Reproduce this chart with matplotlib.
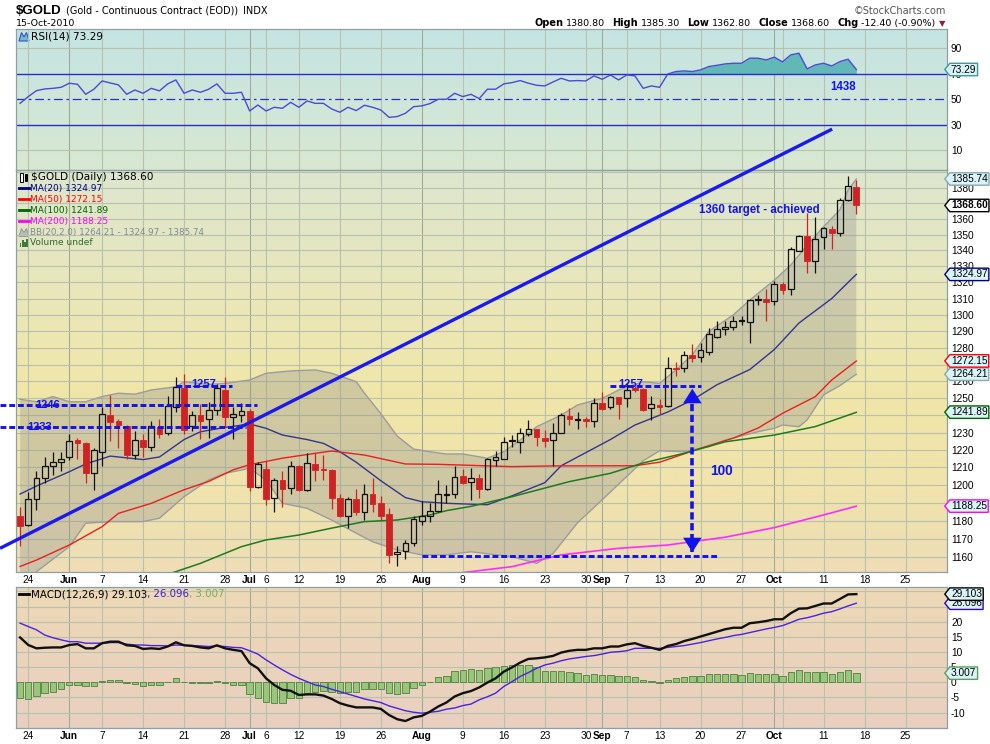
import numpy as np
import matplotlib
matplotlib.use("Agg")
import matplotlib.pyplot as plt
import matplotlib.transforms as mtrans
from matplotlib.lines import Line2D
from matplotlib.path import Path
from matplotlib.patches import FancyArrowPatch, Polygon, Rectangle
from matplotlib.ticker import NullLocator, NullFormatter

plt.rcParams['font.family'] = ['DejaVu Sans']

# ---------------- data (trading-day index 0 = 21 May 2010 ... 102 = 15 Oct 2010) -------------
days = list(range(103))
opens = [1183,1177.5,1192,1204,1211,1213,1216,1226,1224,1207,
         1219,1240,1237,1234,1217,1226,1221.5,1233.5,1229.5,1245,
         1256,1234,1240,1238,1243,1255,1239,1240,1242.5,1199,
         1209.4,1193,1203,1198.4,1211,1197.4,1212,1209.3,1208.7,1193,
         1183,1192,1185,1195,1190,1184,1162,1163.4,1168,1180,
         1182.7,1185.7,1194.6,1195,1205,1201.6,1204,1198,1214.2,1215,
         1225,1224.7,1229.2,1232,1227,1226,1230,1239.6,1237.5,1238,
         1237,1247,1244.8,1250.6,1250,1255.8,1255.3,1244.2,1246,1245.5,
         1268.2,1268,1275.5,1274.7,1277.5,1286.7,1291.2,1292.4,1296.3,1295.4,
         1309,1309.6,1308.6,1319,1315.8,1339.8,1349,1333.6,1348.3,1353.5,
         1351,1372.3,1380.8]
highs = [1188,1196,1208,1216,1219,1219,1229,1227,1224.5,1221,
         1245,1252,1238,1234.5,1231,1229,1237,1238,1251.5,1262.5,
         1264.5,1242.5,1246.5,1248,1258.5,1262.5,1245,1247.5,1244,1213,
         1213.7,1204,1208,1213.7,1211.5,1218.4,1218,1217.4,1209,1195,
         1193.5,1198,1200.5,1204,1194,1187,1166,1169.5,1183,1191,
         1190,1203,1200,1210.8,1209,1209.6,1206.4,1215.2,1219.4,1227.2,
         1228.6,1232.5,1237.4,1232.3,1231.5,1235.5,1241.6,1244.2,1242,1239,
         1250,1254,1251.5,1251,1259,1257,1256,1251.4,1249.4,1274.5,
         1271.6,1278,1282.6,1283,1292,1296.3,1296,1299.6,1299.2,1310,
         1312,1315.8,1321,1320.5,1342,1349.7,1363.6,1361,1355,1355.5,
         1373.4,1387.6,1385.3]
lows = [1166,1177,1186,1201,1205.5,1208,1214,1215,1201,1197,
        1211,1225,1221,1215,1215,1216,1219.5,1227,1228.5,1242,
        1229,1231,1226.5,1227,1240.5,1233.5,1226.5,1236,1196.5,1198.4,
        1189,1185,1187.5,1195,1196.5,1196.8,1202.5,1203,1186.6,1182.4,
        1176,1183.3,1180.5,1184.8,1180.5,1157,1155.4,1159,1166,1178,
        1179.6,1185,1190,1193,1200.5,1191.4,1193,1197.4,1210.8,1214.8,
        1222,1218,1228,1222.2,1221.8,1210.8,1229.9,1234.5,1232,1233.5,
        1233,1243,1243.8,1237.8,1244.8,1254,1242.6,1237.4,1240.8,1245,
        1263.3,1265.3,1271.6,1271.6,1276,1285.9,1287.7,1291,1294,1283,
        1306,1296,1306,1313,1312.4,1339.5,1326,1325.7,1340.6,1340.8,
        1349.4,1371.2,1362.8]
closes = [1177,1192,1204,1211,1213,1215,1225,1224,1207,1220,
          1241,1236,1234.5,1217,1226,1221.5,1234,1229,1245.5,1256.5,
          1231.5,1240,1237,1243,1256,1239,1241,1242.5,1198.7,1212,
          1192.3,1203,1198,1211,1197,1212.6,1208.4,1208.4,1193,1183,
          1192,1185,1195,1189.3,1183,1161,1163,1168,1181,1182.7,
          1185.7,1195,1195.2,1204.8,1201,1204.3,1198,1214.8,1215.8,1224.7,
          1225.5,1229.6,1231.9,1227.6,1225.3,1230,1240,1237.8,1238,1237,
          1247,1243.8,1251,1246.7,1255,1255,1243.2,1246.7,1245,1268.2,
          1267.2,1275.5,1274,1278.7,1288.5,1291.2,1292.8,1296.5,1296.8,1308.9,
          1309.5,1308,1318.9,1315,1341,1349,1333.6,1347,1354,1351,
          1372.3,1381,1368.6]

rsi = [46.7,52.0,56.7,58.0,58.5,59.3,62.5,61.7,53.8,57.8,
       64.3,62.7,61.2,53.8,57.2,54.6,58.5,56.5,62.0,65.1,
       54.6,57.2,55.4,57.8,62.0,54.6,54.6,55.4,40.7,45.4,
       40.7,43.6,42.8,47.5,43.6,48.6,46.7,46.7,42.3,39.7,
       43.6,41.0,45.2,43.6,41.5,35.7,36.3,38.9,44.1,44.7,
       46.5,49.9,49.9,54.6,52.0,53.8,50.4,57.8,57.8,62.0,
       63.0,64.6,62.5,60.9,60.4,63.5,66.4,64.3,64.6,64.3,
       68.3,65.6,69.0,65.1,69.0,68.3,58.5,60.4,59.3,69.8,
       71.7,72.2,71.7,73.0,75.6,76.6,77.7,78.2,78.2,82.2,
       82.2,80.8,83.0,79.3,84.8,86.1,73.8,76.9,78.2,76.1,
       79.5,81.4,73.3]

macd = [14.8,12.3,11.2,11.4,11.5,11.5,12.3,12.6,11.2,11.2,
        12.9,13.4,13.4,12.2,12.0,11.0,11.2,11.0,11.8,13.2,
        12.2,12.0,11.5,11.2,12.2,11.2,10.7,10.3,6.3,4.6,
        1.3,-0.9,-2.5,-2.8,-4.2,-4.0,-4.0,-4.4,-5.5,-6.9,
        -7.7,-8.3,-8.3,-8.3,-8.8,-10.8,-12.2,-12.8,-11.6,-11.1,
        -9.7,-8.0,-6.7,-4.7,-3.6,-2.9,-1.7,-0.1,1.3,3.5,
        4.9,6.5,7.7,7.9,8.2,8.7,9.8,10.4,10.7,10.7,
        11.2,11.2,11.8,11.8,12.5,12.9,12.0,11.4,10.7,12.0,
        12.6,13.6,14.3,15.1,15.9,16.7,17.5,18.0,18.0,19.5,
        19.8,20.2,20.8,20.8,22.8,24.3,24.4,25.2,26.0,26.0,
        27.5,29.0,29.1]
signal = [19.5,18.4,17.3,15.6,14.7,14.0,13.4,13.4,12.9,12.9,
          12.9,13.1,13.1,12.6,12.3,12.3,12.1,12.1,12.0,12.3,
          12.2,12.1,12.0,11.8,12.0,11.8,11.5,11.4,10.4,9.3,
          7.4,5.7,4.1,2.6,1.3,0.2,-0.9,-1.4,-2.3,-3.1,
          -3.9,-4.7,-5.5,-6.1,-6.7,-7.8,-8.6,-9.4,-9.9,-10.2,
          -9.9,-9.6,-8.9,-8.5,-7.7,-7.2,-5.8,-4.8,-3.6,-1.4,
          0.2,1.9,3.2,4.6,5.7,6.3,7.1,7.7,8.1,8.5,
          8.8,9.3,9.9,10.1,10.4,11.2,11.2,11.2,11.2,11.5,
          11.8,12.1,12.6,13.1,13.7,14.3,14.8,15.4,15.8,16.4,
          17.0,17.6,18.1,18.7,19.7,20.8,21.3,22.0,22.8,23.3,
          24.2,25.2,26.1]
hist = [-5.3,-5.6,-4.7,-3.6,-3.3,-2.3,-1.0,-0.8,-1.4,-1.4,
        0.4,0.8,0.8,-0.3,-0.5,-1.4,-0.8,-1.0,0.0,1.3,
        0.2,-0.1,-0.3,-0.3,0.3,-0.3,-0.8,-1.0,-4.0,-5.1,
        -6.4,-6.7,-6.7,-5.3,-5.3,-3.6,-3.1,-2.8,-3.1,-3.6,
        -3.3,-3.1,-2.3,-2.2,-2.2,-3.4,-3.9,-3.4,-2.0,-1.0,
        0.2,1.6,2.2,3.8,4.1,4.3,4.1,4.7,4.9,5.4,
        5.6,5.6,5.7,4.9,3.8,3.7,3.7,3.3,3.0,2.4,
        2.6,2.4,2.4,2.1,2.1,1.6,0.8,0.4,-0.3,0.8,
        1.3,1.9,2.1,2.1,2.7,2.7,2.7,2.7,2.4,3.0,
        2.6,2.6,2.7,2.1,3.3,4.1,3.5,3.5,3.5,2.7,
        3.4,4.1,3.0]

ma20_days = [0,2,6,8,11,15,17,20,22,25,28,30,32,35,37,39,41,44,47,49,
             52,57,60,64,66,72,75,79,82,85,89,92,95,99,102]
ma20_vals = [1195,1199.5,1207.6,1212,1216.5,1214.5,1216,1226,1230.5,1233,
             1235,1232.5,1228.6,1226,1223.8,1219,1213,1202.5,1193,1190.7,
             1189.8,1189,1194,1201.4,1211,1226,1234.4,1242,1249,1258,
             1267,1279,1295,1310,1325]
bbu_days = [0,2,4,6,8,10,12,14,16,19,20,23,25,28,30,33,36,38,41,42,
            44,46,48,50,52,54,57,59,61,63,66,68,71,73,76,78,80,82,84,87,
            89,92,94,96,98,100,101,102]
bbu_vals = [1249.4,1248,1251,1248,1248,1251,1253,1252.4,1254.9,1256.8,
            1259.8,1258.2,1258.8,1260.8,1264.8,1266.2,1266.8,1264.8,1259.8,1253,
            1241,1228,1220.5,1219,1217.7,1217.7,1215.3,1219,1225.7,1233.4,
            1240.2,1246.1,1250,1254.9,1259.8,1258.8,1266.8,1275.8,1289.9,1300,
            1309,1321.4,1330.8,1343.2,1355,1365.8,1378.6,1385.7]
bbl_days = [0,2,6,8,11,15,17,20,23,25,28,30,32,35,38,41,43,46,49,52,
            55,60,63,65,68,70,73,76,78,81,84,86,90,92,93,95,96,98,100,102]
bbl_vals = [1140,1152.2,1165.8,1178.7,1179.6,1179.6,1181.5,1193.5,1202.9,1206.7,
            1209.5,1202.9,1189.8,1187,1180.5,1173.2,1168.5,1164,1161.3,1161.3,
            1163,1160.3,1156.7,1162,1179,1187.5,1200.5,1213.8,1219.5,1219,
            1221.9,1225.7,1230.5,1232.5,1234.4,1233.4,1237.4,1252,1257.5,1264.2]
ma50_days = [0,2,6,10,12,16,20,23,26,28,32,36,38,42,47,51,60,65,75,78,
             80,83,87,90,93,97,99,102]
ma50_vals = [1155,1158.5,1166.7,1176.8,1184.2,1189.8,1197.4,1202.1,1208.7,1211.6,
             1215.3,1218.1,1219.4,1217.1,1212,1211.8,1210.5,1210.9,1211,1213,
             1216.2,1221,1226.8,1232.6,1241.2,1251,1260.8,1272.1]
ma100_days = [12,19,22,27,30,34,38,42,46,50,52,55,60,67,72,76,81,86,92,97,102]
ma100_vals = [1142,1152.2,1156.7,1165.8,1169.5,1172.2,1176,1179.6,1180.5,1183.3,
              1185.7,1188.1,1193.5,1202,1206.7,1212.6,1218.1,1224.7,1228.6,1233.5,1241.8]
ma200_days = [48,55,60,66,73,79,86,92,98,102]
ma200_vals = [1148.5,1152.2,1154.9,1161.3,1164.9,1166.7,1171,1176.3,1183.3,1188.2]

tick_days = [1,6,10,15,20,25,28,30,34,39,44,49,54,59,64,69,71,74,78,83,88,92,98,103,108]
tick_labels = ['24','Jun','7','14','21','28','Jul','6','12','19','26','Aug','9','16','23',
               '30','Sep','7','13','20','27','Oct','11','18','25']
month_names = ['Jun','Jul','Aug','Sep','Oct']
extra_grid_days = [93]

price_grid = list(range(1160, 1400, 10))
price_ticks = [1160,1170,1180,1200,1210,1220,1230,1250,1260,1280,1290,1300,1310,1320,1330,1340,1350,1360,1380]
rsi_ticks = [10, 30, 50, 70, 90]
macd_ticks = [-10, -5, 0, 5, 10, 15, 20]

# ---------------- figure ----------------
FW, FH = 990.0, 744.0
fig = plt.figure(figsize=(9.9, 7.44), dpi=100)
fig.patch.set_facecolor('white')
TFONT = ['Liberation Sans', 'DejaVu Sans']

def rect(top, bottom, left=16.0, right=946.5):
    return [left / FW, 1 - bottom / FH, (right - left) / FW, (bottom - top) / FH]

def gradient_bg(r, stops):
    bg = fig.add_axes(r, zorder=0)
    pos = np.array([s[0] for s in stops])
    cols = np.array([s[1] for s in stops]) / 255.0
    t = np.linspace(0, 1, 256)
    img = np.stack([np.interp(t, pos, cols[:, k]) for k in range(3)], axis=1)[:, None, :]
    bg.imshow(img, aspect='auto', extent=[0, 1, 0, 1], origin='upper', interpolation='bilinear')
    bg.set_axis_off()
    return bg

R_RSI = rect(29.3, 170)
R_P = rect(170, 572)
R_M = rect(587.3, 728.3)
gradient_bg(R_RSI, [(0, (197, 228, 226)), (1, (216, 232, 210))])
gradient_bg(R_P, [(0, (221, 230, 207)), (0.3, (233, 231, 186)), (0.55, (240, 230, 168)),
                  (0.8, (240, 227, 172)), (1, (238, 221, 182))])
gradient_bg(R_M, [(0, (237, 217, 182)), (1, (233, 207, 193))])

ax_r = fig.add_axes(R_RSI, zorder=1)
ax_m = fig.add_axes(R_M, zorder=1)
ax_p = fig.add_axes(R_P, zorder=1)

GRID = '#b7c1ac'
GRID_M = '#9fac98'
SPINE = '#8fa0a0'
TICKFS = 7.3

for ax in (ax_r, ax_p, ax_m):
    ax.set_facecolor('none')
    ax.set_xlim(-0.5, 113)
    for s in ax.spines.values():
        s.set_color(SPINE)
        s.set_linewidth(0.9)
    for d in tick_days + extra_grid_days:
        ax.axvline(d, color=GRID_M if d in (6, 28, 49, 71, 92) else GRID, lw=0.8, zorder=0.5)
    ax.yaxis.tick_right()
    ax.tick_params(axis='y', length=0, pad=3.2, labelsize=TICKFS)
    ax.tick_params(axis='x', length=0, pad=2, labelsize=TICKFS)

# ---------------- RSI panel ----------------
ax_r.set_ylim(-5.7, 104.9)
for v in (10, 90):
    ax_r.axhline(v, color=GRID, lw=0.8, zorder=0.5)
r = np.array(rsi)
ax_r.fill_between(days, r, 70, where=r >= 70, interpolate=True, color='#62b7b7', lw=0, zorder=1)
ax_r.axhline(70, color='#2a2ad0', lw=1.0, zorder=2)
ax_r.axhline(30, color='#2a2ad0', lw=1.0, zorder=2)
ax_r.axhline(50, color='#2a2ad0', lw=0.9, ls=(0, (7, 3, 2, 3)), zorder=2)
ax_r.plot(days, rsi, color='#4a4ad6', lw=1.0, zorder=3)
ax_r.set_yticks(rsi_ticks)
ax_r.set_yticklabels([str(v) for v in rsi_ticks])
ax_r.set_xticks([])

# ---------------- price panel ----------------
ax_p.set_yscale('log')
ax_p.set_ylim(1152.0, 1391.6)
ax_p.yaxis.set_minor_locator(NullLocator())
ax_p.yaxis.set_minor_formatter(NullFormatter())
ax_p.set_yticks(price_ticks)
ax_p.set_yticklabels([str(v) for v in price_ticks])
ax_p.set_xlim(-0.5, 113)
for v in price_grid:
    ax_p.axhline(v, color=GRID, lw=0.8, zorder=0.5)

# Bollinger band
ax_p.fill(list(bbu_days) + list(bbl_days[::-1]), list(bbu_vals) + list(bbl_vals[::-1]),
          color='#8e8e8e', alpha=0.33, lw=0, zorder=1)
ax_p.plot(bbu_days, bbu_vals, color='#9c9c9c', lw=1.0, zorder=2)
ax_p.plot(bbl_days, bbl_vals, color='#9c9c9c', lw=1.0, zorder=2)
ax_p.plot(ma20_days, ma20_vals, color='#35358f', lw=1.0, zorder=2)
ax_p.plot(ma50_days, ma50_vals, color='#e82020', lw=1.0, zorder=2)
ax_p.plot(ma100_days, ma100_vals, color='#1f7a1f', lw=1.1, zorder=2)
ax_p.plot(ma200_days, ma200_vals, color='#ff2cff', lw=1.2, zorder=2)

# candles
o = np.array(opens); h = np.array(highs); l = np.array(lows); c = np.array(closes)
down = c < o
RED = '#cf2323'
for i in days:
    top = max(o[i], c[i]); bot = min(o[i], c[i])
    col = RED if down[i] else '#111111'
    ax_p.vlines(i, top, h[i], color=col, lw=0.9, zorder=3)
    ax_p.vlines(i, l[i], bot, color=col, lw=0.9, zorder=3)
    hgt = max(top - bot, 0.35)
    if down[i]:
        ax_p.bar(i, hgt, bottom=bot, width=0.7, color=RED, edgecolor=RED, lw=0.6, zorder=4)
    else:
        ax_p.bar(i, hgt, bottom=bot, width=0.7, facecolor='none', edgecolor='#111111', lw=0.9, zorder=4)

# annotations
BLUE = '#1212ee'
AFONT = dict(family=TFONT, fontweight='bold', color=BLUE)
dash = dict(color=BLUE, lw=2.1, ls=(0, (2, 1)), clip_on=False, zorder=6)
ax_p.plot([-2.45, 28.85], [1246, 1246], **dash)
ax_p.plot([-2.45, 27.5], [1233, 1233], **dash)
ax_p.plot([19.0, 25.8], [1257, 1257], **dash)
ax_p.plot([72.0, 83.1], [1257, 1257], **dash)
ax_p.plot([49.0, 85.1], [1160.9, 1160.9], **dash)
ax_p.plot([82, 82], [1163, 1252], color=BLUE, lw=2.6, ls=(0, (2, 1)), zorder=6)
for a, b in (((82, 1246), (82, 1257.3)), ((82, 1172), (82, 1161.2))):
    ax_p.add_patch(FancyArrowPatch(a, b, arrowstyle='simple,head_length=0.75,head_width=0.95,tail_width=0.45',
                                   mutation_scale=14, color=BLUE, lw=0, zorder=7))
ax_p.plot([-2.45, 99.05], [1164.9, 1418.6], color='#1a1aee', lw=2.4, clip_on=False,
          solid_capstyle='butt', zorder=6)
ax_p.text(3.3, 1246.3, '1246', ha='center', va='center', fontsize=8, zorder=8, **AFONT)
ax_p.text(2.4, 1233.3, '1233', ha='center', va='center', fontsize=8, zorder=8, **AFONT)
ax_p.text(22.4, 1258.3, '1257', ha='center', va='center', fontsize=8, zorder=8, **AFONT)
ax_p.text(74.5, 1258.3, '1257', ha='center', va='center', fontsize=8, zorder=8, **AFONT)
ax_p.text(90.2, 1365.6, '1360 target - achieved', ha='center', va='center', fontsize=8.3, zorder=8, **AFONT)
ax_p.text(85.5, 1208, '100', ha='center', va='center', fontsize=9.8, zorder=8, **AFONT)
fig.text(843 / FW, 1 - 87.3 / FH, '1438', ha='center', va='center', fontsize=8.3, zorder=8, **AFONT)

ax_p.set_xticks(tick_days)
ax_p.set_xticklabels(tick_labels)

# ---------------- MACD panel ----------------
ax_m.set_ylim(-15.2, 31.35)
for v in range(-15, 35, 5):
    ax_m.axhline(v, color=GRID, lw=0.8, zorder=0.5)
ax_m.bar(days, hist, width=0.78, color='#98c77c', edgecolor='#4f7f40', lw=0.6, zorder=2)
ax_m.plot(days, signal, color='#4a22e0', lw=1.0, zorder=3)
ax_m.plot(days, macd, color='#111111', lw=1.7, zorder=4)
ax_m.set_yticks(macd_ticks)
ax_m.set_yticklabels([str(v) for v in macd_ticks])
ax_m.set_xticks(tick_days)
ax_m.set_xticklabels(tick_labels)

for ax in (ax_r, ax_p, ax_m):
    for t in ax.get_xticklabels() + ax.get_yticklabels():
        t.set_fontfamily(TFONT)
        if t.get_text() in month_names:
            t.set_fontweight('bold')

# ---------------- value tags on the right ----------------
def tag_box(x0, y0, width, height, mutation_size):
    pad = 0.12 * mutation_size
    x0, y0 = x0 - pad, y0 - pad
    w, hh = width + 2 * pad, height + 2 * pad
    tip = 0.4 * hh
    verts = [(x0, y0), (x0 + w, y0), (x0 + w, y0 + hh), (x0, y0 + hh), (x0 - tip, y0 + hh / 2), (x0, y0)]
    codes = [Path.MOVETO, Path.LINETO, Path.LINETO, Path.LINETO, Path.LINETO, Path.CLOSEPOLY]
    return Path(verts, codes)

def tag(ax, value, text, fc, ec, bold=False):
    tr = mtrans.blended_transform_factory(fig.transFigure, ax.transData)
    return fig.text(951 / FW, value, text, transform=tr, ha='left', va='center',
                    fontsize=7.3, fontweight='bold' if bold else 'normal', family=TFONT,
                    color='black', zorder=10,
                    bbox=dict(boxstyle=tag_box, fc=fc, ec=ec, lw=1.0))

LC = '#d9f3f7'
tag(ax_p, 1188.25, '1188.25', LC, '#ff00ff')
tag(ax_p, 1241.89, '1241.89', LC, '#006400')
tag(ax_p, 1264.21, '1264.21', LC, '#8aa8b0')
tag(ax_p, 1272.15, '1272.15', LC, '#ff0000')
tag(ax_p, 1324.97, '1324.97', LC, '#000080')
tag(ax_p, 1385.74, '1385.74', LC, '#8aa8b0')
tag(ax_p, 1368.60, '1368.60', 'white', 'black', bold=True)
tag(ax_r, 73.29, '73.29', LC, '#3a9a9a')
tag(ax_m, 3.007, '3.007', LC, '#5aa05a')
tag(ax_m, 26.096, '26.096', LC, '#3300cc')
tag(ax_m, 29.103, '29.103', LC, 'black')

# ---------------- header & legends ----------------
renderer = fig.canvas.get_renderer()

def ftext(x, y, s, **kw):
    return fig.text(x / FW, 1 - y / FH, s, va='center', **kw)

def chain(pieces, x_px, y_px, align='left'):
    objs = []
    widths = []
    for s, gap, kw in pieces:
        t = fig.text(0, 0, s, va='center', ha='left', **kw)
        widths.append(t.get_window_extent(renderer=renderer).width + gap)
        objs.append(t)
    total = sum(widths)
    x = x_px if align == 'left' else x_px - total
    for t, w in zip(objs, widths):
        t.set_position((x / FW, 1 - y_px / FH))
        x += w

def fpoly(pts, **kw):
    fig.add_artist(Polygon([(x / FW, 1 - y / FH) for x, y in pts], closed=True,
                           transform=fig.transFigure, **kw))

def fbar(x, y0, y1, w, **kw):
    fig.add_artist(Rectangle((x / FW, 1 - y1 / FH), w / FW, (y1 - y0) / FH,
                             transform=fig.transFigure, **kw))

chain([('\\$GOLD', 4, dict(fontsize=9.5, fontweight='bold', family=TFONT)),
       ('(Gold - Continuous Contract (EOD))', 5, dict(fontsize=7.0)),
       ('INDX', 0, dict(fontsize=7.0))], 16, 10.5)
ftext(16, 23.5, '15-Oct-2010', fontsize=6.8)
ftext(946, 10.5, '\u00a9StockCharts.com', fontsize=7.0, color='#555555', ha='right')

B = dict(fontsize=7.0, fontweight='bold')
N = dict(fontsize=6.8)
chain([('Open', 3, B), ('1380.80', 7, N), ('High', 3, B), ('1385.30', 7, N),
       ('Low', 3, B), ('1362.80', 7, N), ('Close', 3, B), ('1368.60', 7, N),
       ('Chg', 3, B), ('-12.40 (-0.90%)', 3, N), ('\u25bc', 0, dict(fontsize=6, color='#8b2045'))],
      945, 23.5, align='right')

# small legend icons
fpoly([(19, 41), (21.5, 32.5), (24, 37), (26.5, 32.5), (29, 41)], fc='#6ec0c0', ec='#3a4ad0', lw=0.8)
fbar(20, 173, 181.5, 2.5, fc='white', ec='black', lw=0.7)
fbar(24.5, 174, 180.5, 2.5, fc='black', ec='black', lw=0.7)
fpoly([(19, 236.5), (21.5, 228.5), (24, 232.5), (26.5, 228.5), (29, 236.5)], fc='#b8bcbc', ec='#8a9090', lw=0.6)
for k, hh in enumerate((4, 7, 5, 8)):
    fbar(19.5 + 2.3 * k, 246.5 - hh, 246.5, 1.7, fc='#3a7a3a', ec='none')

ftext(31, 36.5, 'RSI(14) 73.29', fontsize=7.6)
ftext(31, 177.3, '\\$GOLD (Daily) 1368.60', fontsize=7.6)
legend_rows = [('MA(20) 1324.97', '#000080', 188.3), ('MA(50) 1272.15', '#ff0000', 199.2),
               ('MA(100) 1241.89', '#006400', 210.2), ('MA(200) 1188.25', '#ff00ff', 221.1)]
for s, col, yy in legend_rows:
    fig.add_artist(Line2D([19 / FW, 28.5 / FW], [1 - yy / FH, 1 - yy / FH], color=col, lw=2.0))
    ftext(29.5, yy, s, fontsize=6.5, color=col)
ftext(29.5, 232.3, 'BB(20,2.0) 1264.21 - 1324.97 - 1385.74', fontsize=6.3, color='#7f8a92')
ftext(29.5, 242.7, 'Volume undef', fontsize=6.5, color='#2e6b2e')

fig.add_artist(Line2D([19 / FW, 28.5 / FW], [1 - 594.3 / FH, 1 - 594.3 / FH], color='black', lw=2.0))
chain([('MACD(12,26,9) 29.103', 0, dict(fontsize=7.4, color='black')),
       (', 26.096', 0, dict(fontsize=7.4, color='#3a1fd0')),
       (', 3.007', 0, dict(fontsize=7.4, color='#74b05a'))], 31, 594.3)

fig.savefig('out.png', dpi=100, facecolor='white')
